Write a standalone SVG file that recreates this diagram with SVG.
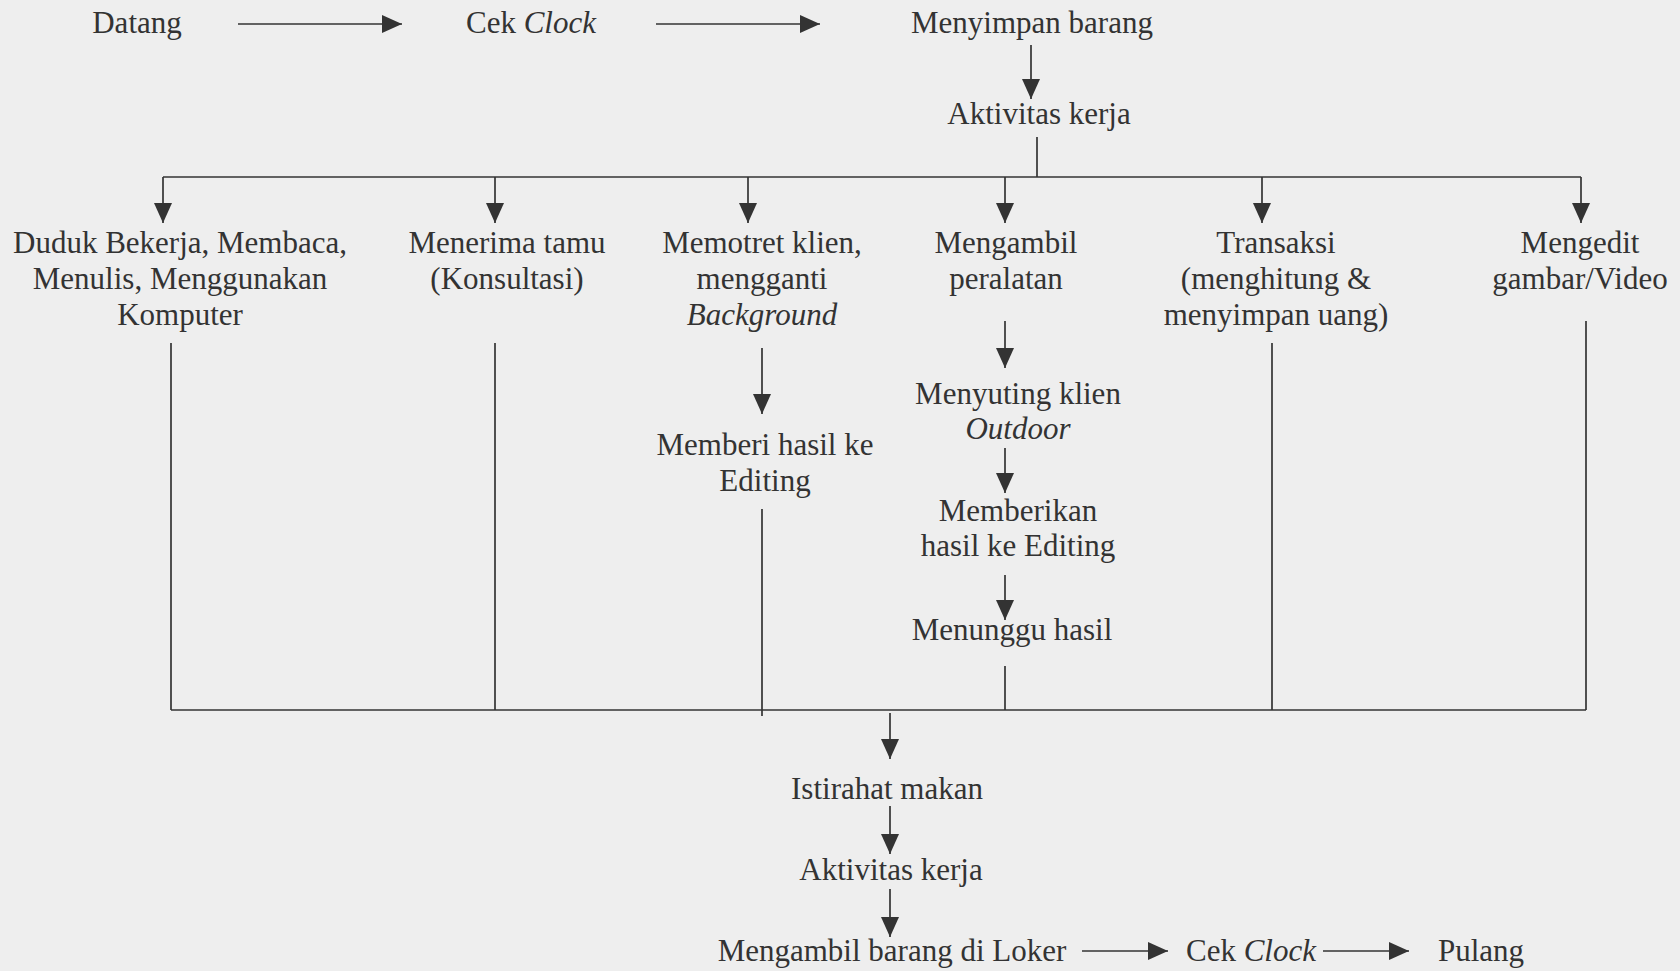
<svg xmlns="http://www.w3.org/2000/svg" width="1680" height="971" viewBox="0 0 1680 971">
  <style>
    .t { font-family: "Liberation Serif", "Times New Roman", serif; font-size: 31px; fill: #333; text-anchor: middle; }
    .i { font-style: italic; }
    .c { stroke: #333; stroke-width: 1.7; fill: none; }
    .a { stroke: #333; stroke-width: 1.7; fill: none; marker-end: url(#head); }
  </style>
  <defs>
    <marker id="head" markerUnits="userSpaceOnUse" markerWidth="21" markerHeight="18" refX="20" refY="9" orient="auto">
      <path d="M0,0 L20,9 L0,18 Z" fill="#333"/>
    </marker>
  </defs>
  <rect width="1680" height="971" fill="#eeeeee"/>

  <!-- arrival row -->
  <g id="datang"><text class="t" x="137" y="33">Datang</text></g>
  <g id="cek-clock-1"><text class="t" x="531" y="33">Cek <tspan class="i">Clock</tspan></text></g>
  <g id="menyimpan"><text class="t" x="1032" y="33">Menyimpan barang</text></g>
  <g id="aktivitas-1"><text class="t" x="1039" y="124">Aktivitas kerja</text></g>

  <!-- parallel activities -->
  <g id="duduk">
    <text class="t" x="180" y="253">Duduk Bekerja, Membaca,</text>
    <text class="t" x="180" y="289">Menulis, Menggunakan</text>
    <text class="t" x="180" y="325">Komputer</text>
  </g>
  <g id="menerima">
    <text class="t" x="507" y="253">Menerima tamu</text>
    <text class="t" x="507" y="289">(Konsultasi)</text>
  </g>
  <g id="memotret">
    <text class="t" x="762" y="253">Memotret klien,</text>
    <text class="t" x="762" y="289">mengganti</text>
    <text class="t i" x="762" y="325">Background</text>
  </g>
  <g id="memberi">
    <text class="t" x="765" y="455">Memberi hasil ke</text>
    <text class="t" x="765" y="491">Editing</text>
  </g>
  <g id="mengambil-alat">
    <text class="t" x="1006" y="253">Mengambil</text>
    <text class="t" x="1006" y="289">peralatan</text>
  </g>
  <g id="menyuting">
    <text class="t" x="1018" y="404">Menyuting klien</text>
    <text class="t i" x="1018" y="439">Outdoor</text>
  </g>
  <g id="memberikan">
    <text class="t" x="1018" y="521">Memberikan</text>
    <text class="t" x="1018" y="556">hasil ke Editing</text>
  </g>
  <g id="menunggu"><text class="t" x="1012" y="640">Menunggu hasil</text></g>
  <g id="transaksi">
    <text class="t" x="1276" y="253">Transaksi</text>
    <text class="t" x="1276" y="289">(menghitung &amp;</text>
    <text class="t" x="1276" y="325">menyimpan uang)</text>
  </g>
  <g id="mengedit">
    <text class="t" x="1580" y="253">Mengedit</text>
    <text class="t" x="1580" y="289">gambar/Video</text>
  </g>

  <!-- closing sequence -->
  <g id="istirahat"><text class="t" x="887" y="799">Istirahat makan</text></g>
  <g id="aktivitas-2"><text class="t" x="891" y="880">Aktivitas kerja</text></g>
  <g id="loker"><text class="t" x="892" y="961">Mengambil barang di Loker</text></g>
  <g id="cek-clock-2"><text class="t" x="1251" y="961">Cek <tspan class="i">Clock</tspan></text></g>
  <g id="pulang"><text class="t" x="1481" y="961">Pulang</text></g>

  <g id="connectors">
    <line class="a" x1="238" y1="24" x2="402" y2="24"/>
    <line class="a" x1="656" y1="24" x2="820" y2="24"/>
    <line class="a" x1="1031" y1="45" x2="1031" y2="99"/>

    <!-- split bus -->
    <line class="c" x1="1037" y1="137" x2="1037" y2="177"/>
    <line class="c" x1="163" y1="177" x2="1581" y2="177"/>
    <line class="a" x1="163" y1="177" x2="163" y2="223"/>
    <line class="a" x1="495" y1="177" x2="495" y2="223"/>
    <line class="a" x1="748" y1="177" x2="748" y2="223"/>
    <line class="a" x1="1005" y1="177" x2="1005" y2="223"/>
    <line class="a" x1="1262" y1="177" x2="1262" y2="223"/>
    <line class="a" x1="1581" y1="177" x2="1581" y2="223"/>

    <!-- column flows -->
    <line class="a" x1="762" y1="348" x2="762" y2="414"/>
    <line class="a" x1="1005" y1="321" x2="1005" y2="368"/>
    <line class="a" x1="1005" y1="448" x2="1005" y2="493"/>
    <line class="a" x1="1005" y1="575" x2="1005" y2="620"/>

    <!-- merge bus -->
    <line class="c" x1="171" y1="343" x2="171" y2="710"/>
    <line class="c" x1="495" y1="343" x2="495" y2="710"/>
    <line class="c" x1="762" y1="509" x2="762" y2="716"/>
    <line class="c" x1="1005" y1="666" x2="1005" y2="710"/>
    <line class="c" x1="1272" y1="343" x2="1272" y2="710"/>
    <line class="c" x1="1586" y1="321" x2="1586" y2="710"/>
    <line class="c" x1="171" y1="710" x2="1586" y2="710"/>

    <line class="a" x1="890" y1="713" x2="890" y2="759"/>
    <line class="a" x1="890" y1="806" x2="890" y2="854"/>
    <line class="a" x1="890" y1="889" x2="890" y2="937"/>
    <line class="a" x1="1082" y1="951" x2="1168" y2="951"/>
    <line class="a" x1="1323" y1="951" x2="1409" y2="951"/>
  </g>
</svg>
